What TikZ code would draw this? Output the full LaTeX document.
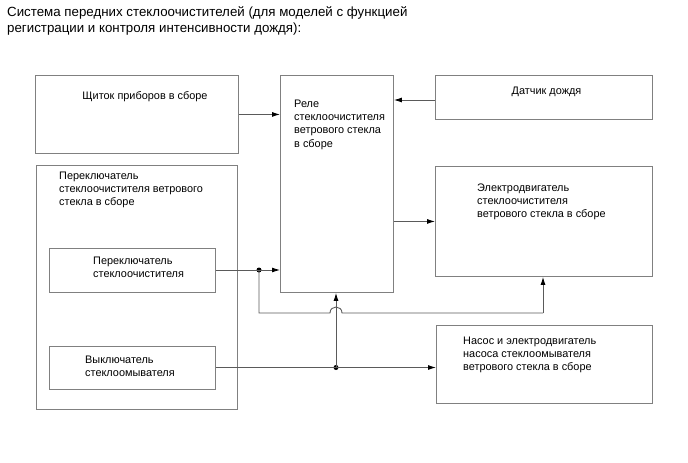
\documentclass[tikz,border=0pt]{standalone}
\usepackage{fontspec}
\setmainfont{Liberation Sans}
\usetikzlibrary{arrows.meta}
\definecolor{boxgray}{RGB}{128,128,128}
\definecolor{linegray}{RGB}{90,90,90}
\begin{document}
\begin{tikzpicture}[x=1pt,y=-1pt,
  box/.style={draw=boxgray,line width=0.9pt,anchor=north west,inner sep=0pt},
  conn/.style={draw=linegray,line width=0.9pt},
  arr/.style={conn,-{Latex[length=8pt,width=5pt,color=black]}},
  lbl/.style={font=\fontsize{10.9}{13.4}\selectfont,align=left,inner sep=0pt,anchor=base west},
  dot/.style={circle,fill=black,inner sep=0pt,minimum size=5pt}]
\useasboundingbox (0,0) rectangle (688,463);
\node[font=\fontsize{13.3}{16}\selectfont,align=left,inner sep=0pt,anchor=base west] (title) at (7,32.5)
  {Система передних стеклоочистителей (для моделей с функцией\\регистрации и контроля интенсивности дождя):};
% boxes
\node[box,minimum width=203pt,minimum height=78pt] (panel) at (35,75) {};
\node[box,minimum width=113pt,minimum height=217pt] (relay) at (280,75) {};
\node[box,minimum width=217pt,minimum height=44pt] (rain) at (435,75) {};
\node[box,minimum width=217pt,minimum height=110pt] (motor) at (435,166) {};
\node[box,minimum width=201pt,minimum height=244pt] (swasm) at (36,165) {};
\node[box,minimum width=166pt,minimum height=44pt] (wsw) at (49,248) {};
\node[box,minimum width=166pt,minimum height=43pt] (wash) at (49,346) {};
\node[box,minimum width=216pt,minimum height=78pt] (pump) at (436,325) {};
% labels (anchored at the baseline of the last line)
\node[lbl,anchor=base] (tpanel) at (145,99) {Щиток приборов в сборе};
\node[lbl] (trelay) at (294,147.2) {Реле\\стеклоочистителя\\ветрового стекла\\в сборе};
\node[lbl,anchor=base] (train) at (546.5,94) {Датчик дождя};
\node[lbl] (tmotor) at (477,217.8) {Электродвигатель\\стеклоочистителя\\ветрового стекла в сборе};
\node[lbl] (tswasm) at (59,205.8) {Переключатель\\стеклоочистителя ветрового\\стекла в сборе};
\node[lbl] (twsw) at (93,277.4) {Переключатель\\стеклоочистителя};
\node[lbl] (twash) at (85,376.4) {Выключатель\\стеклоомывателя};
\node[lbl] (tpump) at (463,370.8) {Насос и электродвигатель\\насоса стеклоомывателя\\ветрового стекла в сборе};
% junctions
\node[dot] (j1) at (259,270) {};
\node[dot] (j2) at (336,367.5) {};
\coordinate (c1) at (259,313);
\coordinate (c2) at (543,313);
% connectors
\draw[arr] (panel.east) -- (panel.east -| relay.west);
\draw[arr] (rain.west |- 0,100) -- (relay.east |- 0,100);
\draw[arr] (relay.east |- motor.west) -- (motor.west);
\draw[conn] (wsw.east |- j1) -- (j1.center);
\draw[arr] (j1.center) -- (j1 -| relay.west);
\draw[conn] (j1.center) -- (c1) -- (330,313) .. controls (330,305) and (342,305) .. (342,313) -- (c2);
\draw[arr] (c2) -- (c2 |- motor.south);
\draw[conn] (wash.east |- j2) -- (j2.center);
\draw[arr] (j2.center) -- (j2 -| pump.west);
\draw[arr] (j2.center) -- (j2 |- relay.south);
\end{tikzpicture}
\end{document}
